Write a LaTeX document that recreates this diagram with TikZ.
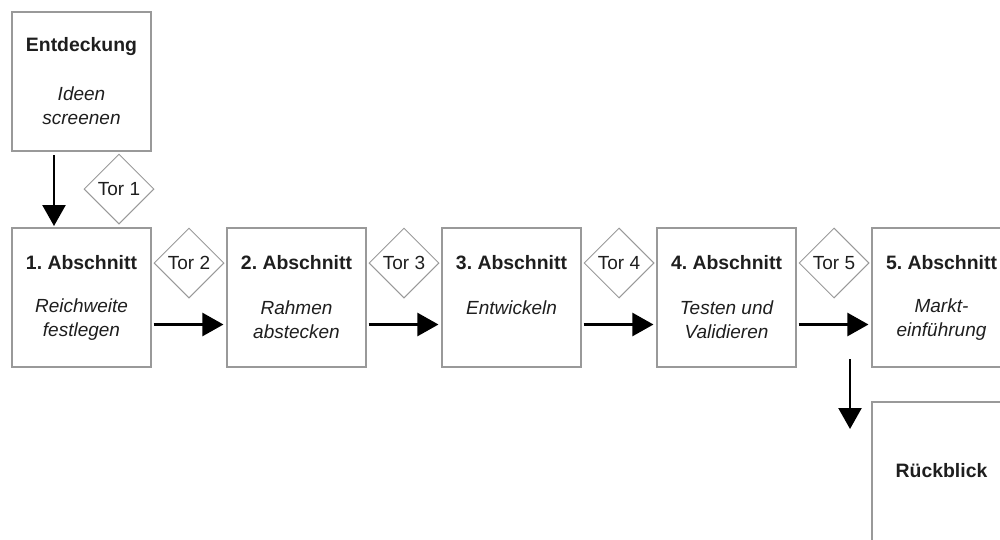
\documentclass[tikz,border=0pt]{standalone}
\usepackage{fontspec}
\setmainfont{Liberation Sans}
\usetikzlibrary{arrows.meta,shapes.geometric}
\frenchspacing
\definecolor{frame}{HTML}{999999}
\definecolor{ink}{HTML}{1E1E1E}
\tikzset{
  phase/.style={draw=frame, line width=1.1pt, minimum width=139pt, minimum height=139pt, inner sep=0pt},
  gate/.style={diamond, draw=frame, line width=1pt, minimum width=70pt, minimum height=70pt, inner sep=0pt, text=ink, font=\fontsize{19}{22}\selectfont},
  title/.style={text=ink, font=\bfseries\fontsize{19.4}{23}\selectfont},
  task/.style={text=ink, font=\itshape\fontsize{19}{24}\selectfont, align=center},
  flow/.style={-{Triangle[length=21pt,width=23pt]}, line width=2.4pt, draw=black}
}
\begin{document}
\begin{tikzpicture}[x=1pt,y=-1pt]
\useasboundingbox (0,0) rectangle (1000,539);
\clip (0,0) rectangle (1000,539);
% discovery stage
\node[phase] (e) at (81.5,81.5) {};
\node[title] (et) at (81.5,47) {Entdeckung};
\node[task] (es) at (81.5,105.5) {Ideen\\screenen};
% the five phases
\node[phase] (p1) at (81.5,297.5) {};
\node[phase] (p2) at (296.5,297.5) {};
\node[phase] (p3) at (511.5,297.5) {};
\node[phase] (p4) at (726.5,297.5) {};
\node[phase] (p5) at (941.5,297.5) {};
\node[title] (t1) at (81.5,263) {1. Abschnitt};
\node[title] (t2) at (296.5,263) {2. Abschnitt};
\node[title] (t3) at (511.5,263) {3. Abschnitt};
\node[title] (t4) at (726.5,263) {4. Abschnitt};
\node[title] (t5) at (941.5,263) {5. Abschnitt};
\node[task] (s1) at (81.5,320) {Reichweite\\festlegen};
\node[task] (s2) at (296.5,320) {Rahmen\\abstecken};
\node[task] (s3) at (511.5,308) {Entwickeln};
\node[task] (s4) at (726.5,320) {Testen und\\Validieren};
\node[task] (s5) at (941.5,320) {Markt-\\einführung};
% review
\node[phase] (r) at (941.5,471.5) {};
\node[title] (rt) at (941.5,471) {Rückblick};
% gates
\node[gate] (g1) at (119,189) {Tor 1};
\node[gate] (g2) at (189,263) {Tor 2};
\node[gate] (g3) at (404,263) {Tor 3};
\node[gate] (g4) at (619,263) {Tor 4};
\node[gate] (g5) at (834,263) {Tor 5};
% connectors
\coordinate (a0) at (54,155);
\coordinate (a1) at (54,226);
\draw[flow] (a0) -- (a1);
\draw[flow] ([yshift=-27pt,xshift=2pt]p1.east) -- ([yshift=-27pt,xshift=-3pt]p2.west);
\draw[flow] ([yshift=-27pt,xshift=2pt]p2.east) -- ([yshift=-27pt,xshift=-3pt]p3.west);
\draw[flow] ([yshift=-27pt,xshift=2pt]p3.east) -- ([yshift=-27pt,xshift=-3pt]p4.west);
\draw[flow] ([yshift=-27pt,xshift=2pt]p4.east) -- ([yshift=-27pt,xshift=-3pt]p5.west);
\coordinate (b0) at (850,359);
\coordinate (b1) at (850,429);
\draw[flow] (b0) -- (b1);
\end{tikzpicture}
\end{document}
